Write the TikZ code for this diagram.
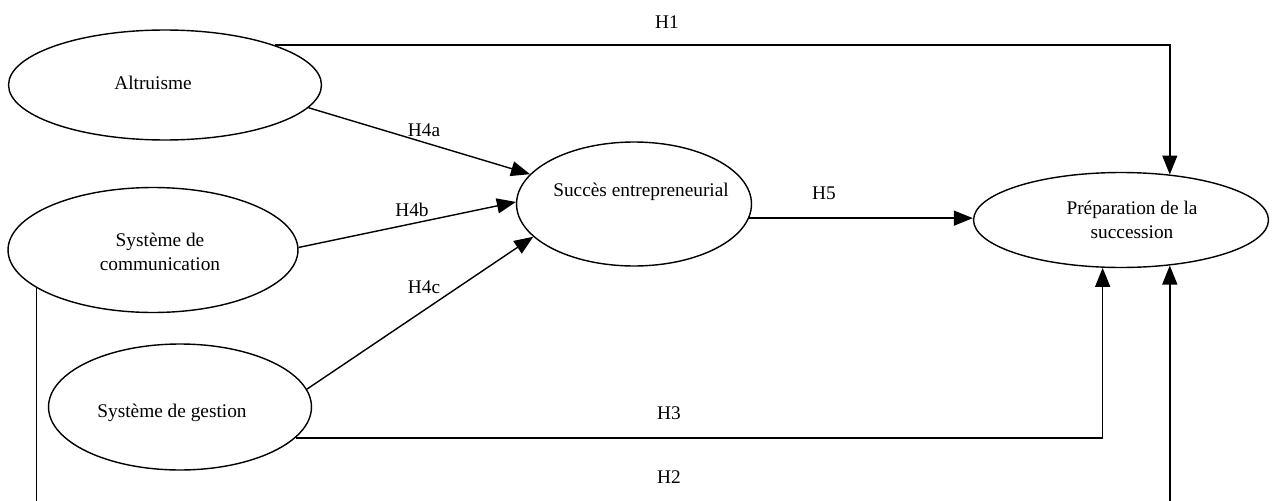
\documentclass[tikz,border=0pt]{standalone}
\usepackage{fontspec}
\setmainfont{Liberation Serif}
\usetikzlibrary{shapes.geometric,arrows.meta}

\tikzset{
  latent/.style={draw, ellipse, line width=0.8pt, inner sep=0pt},
  lbl/.style={font=\fontsize{11}{13.6}\selectfont, align=center, inner sep=0pt},
  link/.style={-{Triangle[length=0.38cm,width=0.3cm]}, line width=0.8pt}
}

\begin{document}
\begin{tikzpicture}[x=0.02cm, y=-0.02cm]
  \clip (0,0) rectangle (1277,500);

  % Draw the constructs
  \node[latent, minimum width=6.26cm, minimum height=2.2cm] (alt) at (165,85) {};
  \node[latent, minimum width=5.8cm, minimum height=2.5cm] (comm) at (153,250) {};
  \node[latent, minimum width=5.26cm, minimum height=2.52cm] (gest) at (180,407) {};
  \node[latent, minimum width=4.7cm, minimum height=2.48cm] (succ) at (634,204) {};
  \node[latent, minimum width=5.9cm, minimum height=1.9cm] (prep) at (1121,220) {};

  % Draw construct names
  \node[lbl] (altT) at (153,83) {Altruisme};
  \node[lbl] (commT) at (160,252) {Système de\\communication};
  \node[lbl] (gestT) at (172,413) {Système de gestion};
  \node[lbl] (succT) at (641,192) {Succès entrepreneurial};
  \node[lbl] (prepT) at (1132,220) {Préparation de la\\succession};

  % Draw hypotheses
  \coordinate (h2low) at (600,515);
  \draw[link] (alt.-9) -- (succ.164);
  \draw[link] (comm.1) -- (succ.179);
  \draw[link] (gest.8) -- (succ.198);
  \draw[link] (succ.-7) -- (succ.-7 -| prep.west);
  \draw[link] (alt.20) -| (prep.43);
  \draw[link] (gest.-15) -| (prep.-111);
  \draw[link] (comm.198) |- (h2low) -| (prep.-43);

  % Draw hypothesis labels
  \node[lbl] (h1) at (667,22) {H1};
  \node[lbl] (h4a) at (424,130) {H4a};
  \node[lbl] (h4b) at (412,210) {H4b};
  \node[lbl] (h4c) at (424,287) {H4c};
  \node[lbl] (h5) at (824,193) {H5};
  \node[lbl] (h3) at (669,413) {H3};
  \node[lbl] (h2) at (669,477) {H2};
\end{tikzpicture}
\end{document}
